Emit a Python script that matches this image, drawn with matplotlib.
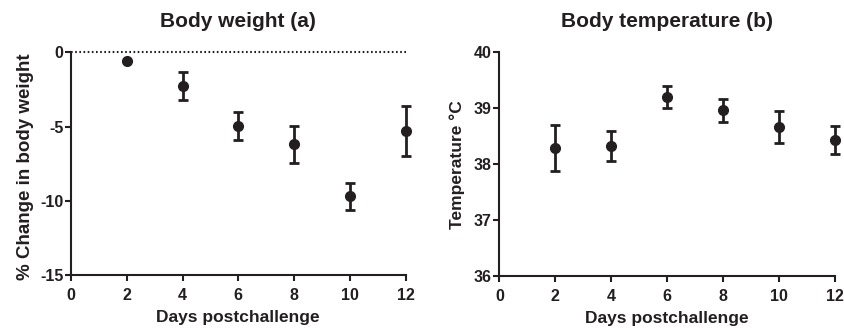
import matplotlib.pyplot as plt

plt.rcParams['font.family'] = ['Liberation Sans', 'DejaVu Sans']
plt.rcParams['font.weight'] = 'bold'
plt.rcParams['axes.unicode_minus'] = False

ink = '#231f20'

days = [2, 4, 6, 8, 10, 12]

# % change in body weight (mean, error)
weight_mean = [-0.57, -2.25, -4.97, -6.2, -9.7, -5.3]
weight_err = [0.0, 0.95, 0.93, 1.25, 0.92, 1.7]

# body temperature (mean, error)
temp_mean = [38.29, 38.32, 39.2, 38.96, 38.66, 38.44]
temp_err = [0.41, 0.27, 0.2, 0.21, 0.29, 0.25]


def style_axes(ax):
    for side in ['top', 'right']:
        ax.spines[side].set_visible(False)
    for side in ['left', 'bottom']:
        ax.spines[side].set_linewidth(1.5)
        ax.spines[side].set_color(ink)
    ax.tick_params(direction='out', length=4.5, width=1.5, colors=ink,
                   labelsize=11.5)
    ax.tick_params(axis='y', pad=1)
    ax.tick_params(axis='x', pad=5)
    for lbl in ax.get_xticklabels() + ax.get_yticklabels():
        lbl.set_fontweight('bold')
    ax.set_xlim(0, 12)
    ax.set_xticks(range(0, 13, 2))
    ax.set_xlabel('Days postchallenge', fontsize=12.5, fontweight='bold',
                  color=ink, labelpad=5)


fig = plt.figure(figsize=(8.45, 3.31), dpi=100)
ax1 = fig.add_axes([0.084, 0.169, 0.396, 0.673])
ax2 = fig.add_axes([0.591, 0.166, 0.397, 0.676])

# Body weight
ax1.axhline(0, color=ink, linestyle=(0, (0.8, 1.2)), linewidth=1.5, clip_on=False)
ax1.errorbar(days, weight_mean, yerr=weight_err, fmt='o', color=ink,
             markersize=7, elinewidth=2, capsize=3.5, capthick=2, clip_on=False)
ax1.set_ylim(-15, 0)
ax1.set_yticks([0, -5, -10, -15])
style_axes(ax1)
ax1.set_ylabel('% Change in body weight', fontsize=13.5, fontweight='bold',
               color=ink)
ax1.yaxis.set_label_coords(-0.112, 0.485)
ax1.set_title('Body weight (a)', fontsize=15, fontweight='bold', color=ink,
              pad=18)

# Body temperature
ax2.errorbar(days, temp_mean, yerr=temp_err, fmt='o', color=ink,
             markersize=7, elinewidth=2, capsize=3.5, capthick=2, clip_on=False)
ax2.set_ylim(36, 40)
ax2.set_yticks([36, 37, 38, 39, 40])
style_axes(ax2)
ax2.set_ylabel('Temperature \u00b0C', fontsize=12.5, fontweight='bold',
               color=ink, labelpad=6)
ax2.set_title('Body temperature (b)', fontsize=15, fontweight='bold', color=ink,
              pad=18)

fig.savefig('out.png', dpi=100)
